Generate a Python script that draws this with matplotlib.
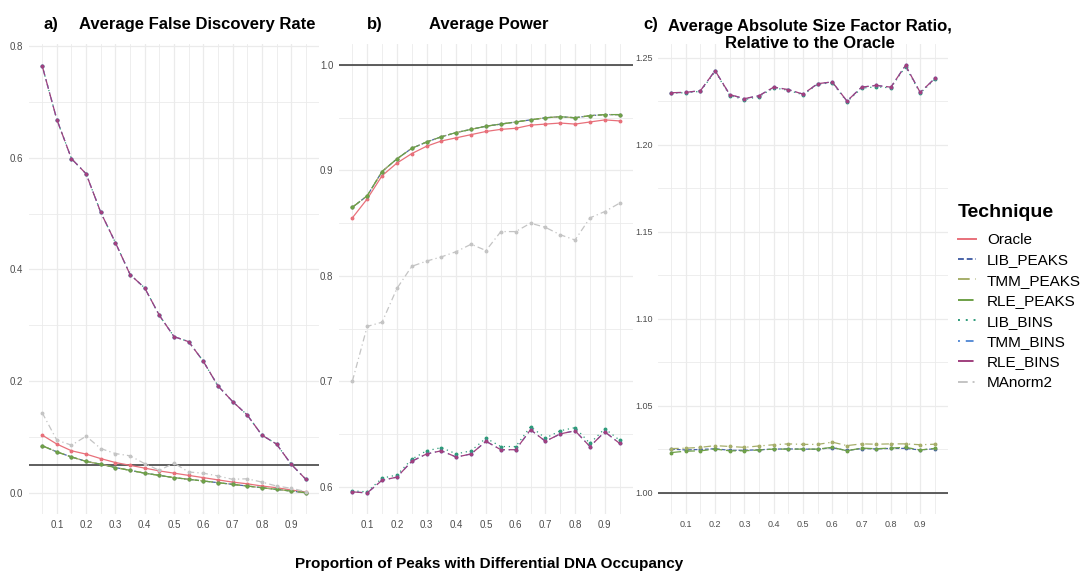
import matplotlib
matplotlib.use('Agg')
import matplotlib.pyplot as plt
from matplotlib.ticker import MultipleLocator

plt.rcParams['font.family'] = ['Liberation Sans', 'DejaVu Sans']

# proportion of peaks with differential occupancy
prop = [0.05, 0.10, 0.15, 0.20, 0.25, 0.30, 0.35, 0.40, 0.45, 0.50,
        0.55, 0.60, 0.65, 0.70, 0.75, 0.80, 0.85, 0.90, 0.95]

# a) average false discovery rate
fdr_oracle = [0.104, 0.088, 0.076, 0.070, 0.062, 0.055, 0.050, 0.045, 0.040, 0.036,
              0.032, 0.028, 0.024, 0.020, 0.017, 0.013, 0.010, 0.006, 0.002]
fdr_peaks = [0.085, 0.074, 0.065, 0.057, 0.052, 0.046, 0.041, 0.036, 0.032, 0.028,
             0.025, 0.022, 0.019, 0.016, 0.013, 0.010, 0.007, 0.004, 0.001]
fdr_bins = [0.764, 0.668, 0.598, 0.571, 0.502, 0.448, 0.391, 0.367, 0.318, 0.280,
            0.271, 0.236, 0.192, 0.164, 0.140, 0.104, 0.088, 0.052, 0.025]
fdr_manorm = [0.144, 0.095, 0.086, 0.102, 0.080, 0.071, 0.067, 0.053, 0.041, 0.054,
              0.038, 0.036, 0.031, 0.025, 0.026, 0.020, 0.013, 0.009, 0.003]

# b) average power
pow_oracle = [0.855, 0.873, 0.895, 0.907, 0.916, 0.923, 0.928, 0.931, 0.934, 0.937,
              0.939, 0.940, 0.943, 0.944, 0.945, 0.944, 0.946, 0.948, 0.947]
pow_peaks = [0.865, 0.876, 0.899, 0.911, 0.921, 0.927, 0.932, 0.936, 0.939, 0.942,
             0.944, 0.946, 0.948, 0.950, 0.951, 0.950, 0.952, 0.953, 0.953]
pow_bins = [0.595, 0.594, 0.606, 0.609, 0.624, 0.631, 0.634, 0.628, 0.631, 0.643,
            0.635, 0.635, 0.654, 0.643, 0.650, 0.653, 0.638, 0.652, 0.641]
pow_lib_bins = [0.596, 0.595, 0.608, 0.611, 0.626, 0.634, 0.637, 0.631, 0.634, 0.646,
                0.638, 0.638, 0.657, 0.646, 0.653, 0.656, 0.641, 0.655, 0.644]
pow_manorm = [0.700, 0.752, 0.756, 0.788, 0.809, 0.814, 0.818, 0.823, 0.830, 0.824,
              0.842, 0.842, 0.850, 0.846, 0.839, 0.834, 0.855, 0.861, 0.869]

# c) average absolute size factor ratio relative to the oracle
sf_bins = [1.2298, 1.2300, 1.2310, 1.2425, 1.2287, 1.2264, 1.2281, 1.2330, 1.2316, 1.2290,
           1.2350, 1.2360, 1.2250, 1.2330, 1.2340, 1.2330, 1.2455, 1.2300, 1.2380]
sf_lib_bins = [1.2296, 1.2298, 1.2306, 1.2420, 1.2282, 1.2258, 1.2276, 1.2326, 1.2312, 1.2286,
               1.2346, 1.2356, 1.2246, 1.2324, 1.2332, 1.2326, 1.2448, 1.2296, 1.2374]
sf_tmm_peaks = [1.0253, 1.0255, 1.0260, 1.0270, 1.0265, 1.0260, 1.0268, 1.0275, 1.0280, 1.0277,
                1.0277, 1.0290, 1.0270, 1.0280, 1.0278, 1.0280, 1.0280, 1.0275, 1.0278]
sf_lib_peaks = [1.0250, 1.0245, 1.0248, 1.0252, 1.0243, 1.0243, 1.0246, 1.0250, 1.0251, 1.0250,
                1.0249, 1.0258, 1.0242, 1.0253, 1.0251, 1.0254, 1.0254, 1.0245, 1.0252]
sf_rle_peaks = [1.0230, 1.0238, 1.0240, 1.0250, 1.0240, 1.0240, 1.0245, 1.0250, 1.0250, 1.0250,
                1.0250, 1.0260, 1.0240, 1.0256, 1.0252, 1.0256, 1.0260, 1.0245, 1.0254]

techniques = ['Oracle', 'LIB_PEAKS', 'TMM_PEAKS', 'RLE_PEAKS',
              'LIB_BINS', 'TMM_BINS', 'RLE_BINS', 'MAnorm2']
colors = {'Oracle': '#E8707A', 'LIB_PEAKS': '#4A64A8', 'TMM_PEAKS': '#A6AE6A',
          'RLE_PEAKS': '#6EA048', 'LIB_BINS': '#2E9B7A', 'TMM_BINS': '#5B8ED6',
          'RLE_BINS': '#A0407E', 'MAnorm2': '#C4C4C4'}
styles = {'Oracle': '-', 'LIB_PEAKS': (0, (3, 1.5)), 'TMM_PEAKS': (0, (6, 3, 1, 3)),
          'RLE_PEAKS': (0, (8, 3)), 'LIB_BINS': (0, (1, 3)), 'TMM_BINS': (0, (1, 3, 4, 3)),
          'RLE_BINS': (0, (8, 3)), 'MAnorm2': (0, (5, 2.5, 1, 2.5))}

panels = [
    {'Oracle': fdr_oracle, 'LIB_PEAKS': fdr_peaks, 'TMM_PEAKS': fdr_peaks, 'RLE_PEAKS': fdr_peaks,
     'LIB_BINS': fdr_bins, 'TMM_BINS': fdr_bins, 'RLE_BINS': fdr_bins, 'MAnorm2': fdr_manorm},
    {'Oracle': pow_oracle, 'LIB_PEAKS': pow_peaks, 'TMM_PEAKS': pow_peaks, 'RLE_PEAKS': pow_peaks,
     'LIB_BINS': pow_lib_bins, 'TMM_BINS': pow_bins, 'RLE_BINS': pow_bins, 'MAnorm2': pow_manorm},
    {'LIB_PEAKS': sf_lib_peaks, 'TMM_PEAKS': sf_tmm_peaks, 'RLE_PEAKS': sf_rle_peaks,
     'LIB_BINS': sf_lib_bins, 'TMM_BINS': sf_bins, 'RLE_BINS': sf_bins},
]
hlines = [0.05, 1.0, 1.0]
ylims = [(-0.037, 0.803), (0.574, 1.020), (0.9877, 1.2578)]
ymajor = [0.2, 0.1, 0.05]
tick_sizes = [7, 7, 6.5]
boxes = [(29, 290), (339, 294), (658, 290)]

W, H = 1089, 578
fig = plt.figure(figsize=(W / 100, H / 100), dpi=100)

for i in range(3):
    left, width = boxes[i]
    ax = fig.add_axes([left / W, 1 - 514 / H, width / W, 470 / H])
    for name in techniques:
        if name not in panels[i]:
            continue
        ax.plot(prop, panels[i][name], color=colors[name], linestyle=styles[name],
                linewidth=0.9, marker='o', markersize=1.8, label=name)
    ax.axhline(hlines[i], color='#333333', linewidth=1.1, zorder=1)
    ax.set_xlim(0.005, 0.995)
    ax.set_ylim(*ylims[i])
    ax.xaxis.set_major_locator(MultipleLocator(0.1))
    ax.xaxis.set_minor_locator(MultipleLocator(0.05))
    ax.yaxis.set_major_locator(MultipleLocator(ymajor[i]))
    ax.yaxis.set_minor_locator(MultipleLocator(ymajor[i] / 2))
    ax.set_xticks([0.1, 0.2, 0.3, 0.4, 0.5, 0.6, 0.7, 0.8, 0.9])
    ax.set_xticklabels(['0.1', '0.2', '0.3', '0.4', '0.5', '0.6', '0.7', '0.8', '0.9'])
    if i == 2:
        ax.yaxis.set_major_formatter(plt.FormatStrFormatter('%.2f'))
    else:
        ax.yaxis.set_major_formatter(plt.FormatStrFormatter('%.1f'))
    ax.grid(which='major', color='#EBEBEB', linewidth=0.9)
    ax.grid(which='minor', color='#EBEBEB', linewidth=0.6)
    ax.set_axisbelow(True)
    for s in ax.spines.values():
        s.set_visible(False)
    ax.tick_params(which='both', length=0, labelsize=tick_sizes[i], colors='#4D4D4D')
    ax.tick_params(axis='x', pad=4)
    ax.tick_params(axis='y', pad=4)
    if i == 0:
        handles, labels = ax.get_legend_handles_labels()


def px(x, y):
    return x / W, 1 - y / H


fig.text(*px(43, 25), 'a)', fontsize=12, fontweight='bold', ha='left', va='center')
fig.text(*px(197, 25), 'Average False Discovery Rate', fontsize=12, fontweight='bold',
         ha='center', va='center')
fig.text(*px(367, 25), 'b)', fontsize=12, fontweight='bold', ha='left', va='center')
fig.text(*px(489, 25), 'Average Power', fontsize=12, fontweight='bold', ha='center', va='center')
fig.text(*px(643, 25), 'c)', fontsize=12, fontweight='bold', ha='left', va='center')
fig.text(*px(810, 35), 'Average Absolute Size Factor Ratio,\nRelative to the Oracle',
         fontsize=12, fontweight='bold', ha='center', va='center', linespacing=1.2)
fig.text(*px(489, 564), 'Proportion of Peaks with Differential DNA Occupancy',
         fontsize=11, fontweight='bold', ha='center', va='center')

# legend
fig.text(*px(958, 212), 'Technique', fontsize=14, fontweight='bold', ha='left', va='center')
leg = fig.legend(handles, labels, loc='upper left', bbox_to_anchor=px(958, 233),
                 frameon=False, fontsize=11, handlelength=1.2,
                 handletextpad=0.7, labelspacing=0.42, borderaxespad=0, borderpad=0)
for line in leg.get_lines():
    line.set_marker('')
    line.set_linewidth(1.4)

fig.savefig('out.png', dpi=100)
